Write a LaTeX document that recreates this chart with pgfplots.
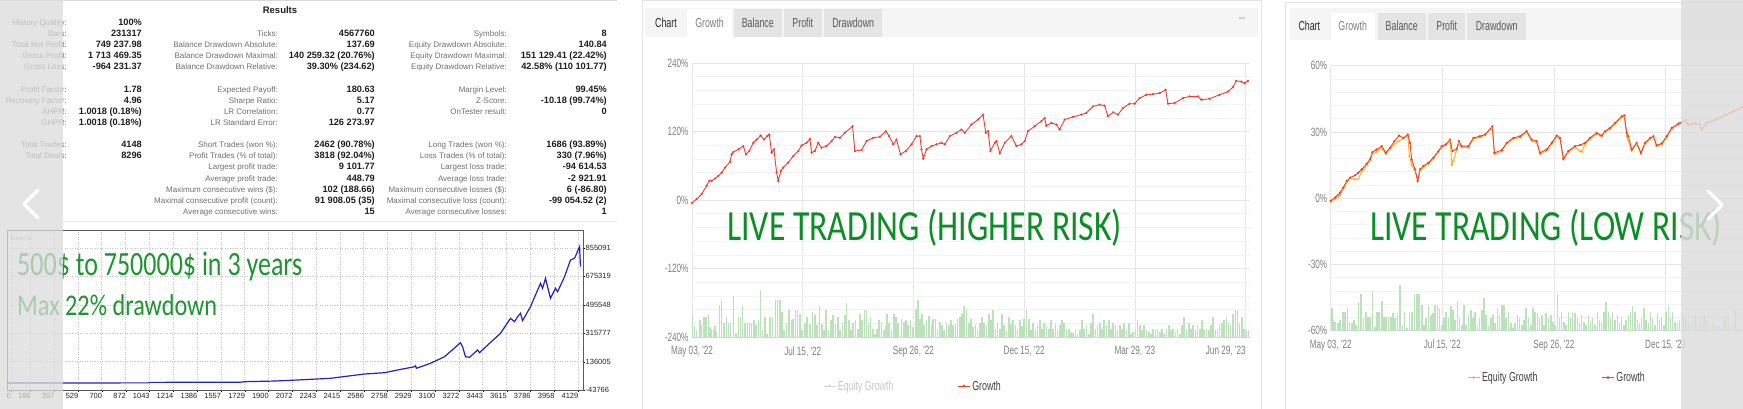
\documentclass[border=0pt]{standalone}
\usepackage{graphicx}
\usepackage{pgfplots}
\pgfplotsset{compat=1.18}
\usepackage{fontspec}
\setmainfont{Liberation Sans}
\newfontfamily\cond[FakeStretch=0.68]{Liberation Sans}
\newfontfamily\calfont{Carlito}
\definecolor{lbl}{HTML}{707070}
\definecolor{val}{HTML}{1E1E1E}
\definecolor{gtxt}{RGB}{12,142,38}
\definecolor{gtxtL}{RGB}{30,150,48}
\definecolor{gridA}{HTML}{E6E6E6}
\definecolor{gridB}{HTML}{F3F3F3}
\definecolor{xline}{HTML}{CCD6EB}
\definecolor{redl}{RGB}{240,62,50}
\definecolor{orl}{RGB}{250,178,30}
\definecolor{barg}{RGB}{188,226,188}
\definecolor{ticklbl}{HTML}{808080}
\definecolor{balblue}{RGB}{35,35,190}
\definecolor{tabbg}{HTML}{F5F5F5}
\definecolor{tabdk}{HTML}{E4E4E4}
\newcommand\fs[1]{\fontsize{#1}{#1}\selectfont}
\newcommand\rl[3]{\node[anchor=base east,inner sep=0,text=lbl,font=\fs{8}] at (#1,#2) {#3};}
\newcommand\rv[3]{\node[anchor=base east,inner sep=0,text=val,font=\bfseries\fs{9.2}] at (#1,#2) {#3};}
\pgfplotsset{
  hcstyle/.style={
    scale only axis,
    axis line style={draw=none},
    major tick length=0pt, minor tick length=0pt,
    grid=both,
    major grid style={gridA, line width=0.6pt},
    minor grid style={gridB, line width=0.5pt},
    minor y tick num=4,
    tick label style={font=\cond\fs{12}, text=ticklbl},
    xticklabel style={yshift=-6pt},
    legend style={draw=none, fill=none, font=\cond\fs{13}, legend columns=2,
      /tikz/every even column/.append style={column sep=62pt}, inner sep=0pt},
    legend image code/.code={\draw[mark repeat=2,mark phase=2,#1] plot coordinates {(0pt,0pt) (6pt,0pt) (12pt,0pt)};},
  }
}
\begin{document}
\begin{tikzpicture}[x=1pt,y=-1pt]
\useasboundingbox (0,0) rectangle (1743,409);
\clip (0,0) rectangle (1743,409);
\fill[white] (0,0) rectangle (1743,409);

% ================= LEFT PANEL =================
\draw[gray!30, line width=1pt] (0,0.5) -- (617,0.5);
\node[font=\bfseries\fs{9.5}, text=val] at (280,10) {Results};
\rl{67}{25.6}{History Quality:} \rv{142}{25.6}{100\%}
\rl{67}{36.6}{Bars:} \rv{142}{36.6}{231317}
\rl{278}{36.6}{Ticks:} \rv{375}{36.6}{4567760}
\rl{507}{36.6}{Symbols:} \rv{607}{36.6}{8}
\rl{67}{47.6}{Total Net Profit:} \rv{142}{47.6}{749 237.98}
\rl{278}{47.6}{Balance Drawdown Absolute:} \rv{375}{47.6}{137.69}
\rl{507}{47.6}{Equity Drawdown Absolute:} \rv{607}{47.6}{140.84}
\rl{67}{59}{Gross Profit:} \rv{142}{59}{1 713 469.35}
\rl{278}{59}{Balance Drawdown Maximal:} \rv{375}{59}{140 259.32 (20.76\%)}
\rl{507}{59}{Equity Drawdown Maximal:} \rv{607}{59}{151 129.41 (22.42\%)}
\rl{67}{70}{Gross Loss:} \rv{142}{70}{-964 231.37}
\rl{278}{70}{Balance Drawdown Relative:} \rv{375}{70}{39.30\% (234.62)}
\rl{507}{70}{Equity Drawdown Relative:} \rv{607}{70}{42.58\% (110 101.77)}
\rl{67}{92.3}{Profit Factor:} \rv{142}{92.3}{1.78}
\rl{278}{92.3}{Expected Payoff:} \rv{375}{92.3}{180.63}
\rl{507}{92.3}{Margin Level:} \rv{607}{92.3}{99.45\%}
\rl{67}{103.3}{Recovery Factor:} \rv{142}{103.3}{4.96}
\rl{278}{103.3}{Sharpe Ratio:} \rv{375}{103.3}{5.17}
\rl{507}{103.3}{Z-Score:} \rv{607}{103.3}{-10.18 (99.74\%)}
\rl{67}{114.3}{AHPR:} \rv{142}{114.3}{1.0018 (0.18\%)}
\rl{278}{114.3}{LR Correlation:} \rv{375}{114.3}{0.77}
\rl{507}{114.3}{OnTester result:} \rv{607}{114.3}{0}
\rl{67}{125.6}{GHPR:} \rv{142}{125.6}{1.0018 (0.18\%)}
\rl{278}{125.6}{LR Standard Error:} \rv{375}{125.6}{126 273.97}
\rl{67}{147.6}{Total Trades:} \rv{142}{147.6}{4148}
\rl{278}{147.6}{Short Trades (won \%):} \rv{375}{147.6}{2462 (90.78\%)}
\rl{507}{147.6}{Long Trades (won \%):} \rv{607}{147.6}{1686 (93.89\%)}
\rl{67}{159}{Total Deals:} \rv{142}{159}{8296}
\rl{278}{159}{Profit Trades (\% of total):} \rv{375}{159}{3818 (92.04\%)}
\rl{507}{159}{Loss Trades (\% of total):} \rv{607}{159}{330 (7.96\%)}
\rl{278}{170}{Largest profit trade:} \rv{375}{170}{9 101.77}
\rl{507}{170}{Largest loss trade:} \rv{607}{170}{-94 614.53}
\rl{278}{181}{Average profit trade:} \rv{375}{181}{448.79}
\rl{507}{181}{Average loss trade:} \rv{607}{181}{-2 921.91}
\rl{278}{192.3}{Maximum consecutive wins (\$):} \rv{375}{192.3}{102 (188.66)}
\rl{507}{192.3}{Maximum consecutive losses (\$):} \rv{607}{192.3}{6 (-86.80)}
\rl{278}{203.3}{Maximal consecutive profit (count):} \rv{375}{203.3}{91 908.05 (35)}
\rl{507}{203.3}{Maximal consecutive loss (count):} \rv{607}{203.3}{-99 054.52 (2)}
\rl{278}{214.3}{Average consecutive wins:} \rv{375}{214.3}{15}
\rl{507}{214.3}{Average consecutive losses:} \rv{607}{214.3}{1}
\draw[gray!15, line width=1pt] (63,221.7) -- (617,221.7);

\begin{axis}[at={(7pt,-390pt)}, anchor=south west, scale only axis,
  width=576pt, height=160pt,
  xmin=18, xmax=4165, ymin=-43766, ymax=969031,
  xtick={45,186,357,529,700,872,1043,1214,1386,1557,1729,1900,2072,2243,2415,2586,2758,2929,3100,3272,3443,3615,3786,3958,4129},
  xticklabels={0,186,357,529,700,872,1043,1214,1386,1557,1729,1900,2072,2243,2415,2586,2758,2929,3100,3272,3443,3615,3786,3958,4129},
  ytick={-43766,136005,315777,495548,675319,855091},
  yticklabels={-43766,136005,315777,495548,675319,855091},
  yticklabel pos=right,
  scaled ticks=false,
  grid=major, major grid style={gray!45, dash pattern=on 1pt off 1.5pt, line width=0.5pt},
  axis line style={gray!70!black, line width=0.7pt},
  tick align=outside, major tick length=2pt, tick style={black},
  xtick pos=bottom, ytick pos=right,
  tick label style={font=\fs{7.5}, text=black!85},
  xticklabel style={anchor=north east, inner sep=0.5pt, yshift=-1pt, xshift=1pt},
  yticklabel style={anchor=west, inner sep=0.5pt, xshift=0pt},
  clip=true]
\addplot[balblue, line width=1.2pt] coordinates {(18,500)(500,700)(1040,1500)(1050,4500)(1700,5500)(1730,8800)(1944,13000)(2110,19500)(2347,30300)(2592,57500)(2736,65700)(2830,82800)(2952,103700)(2959,110000)(2966,93600)(3067,125200)(3168,167000)(3283,255600)(3298,230300)(3319,167000)(3348,163200)(3406,209400)(3420,192300)(3492,251800)(3571,315100)(3643,410100)(3672,388600)(3694,420200)(3715,441700)(3730,394900)(3787,483500)(3859,631600)(3874,600000)(3895,663300)(3931,536700)(3967,600000)(3982,578500)(4032,673400)(4075,779100)(4104,789900)(4140,863300)(4147,736700)};
\end{axis}
\node[anchor=west, inner sep=0, font=\fs{6}, text=gray!55] at (10,238) {Balance};
\node[anchor=base west, inner sep=0, text=gtxtL] at (17,275) {\resizebox{285pt}{\height}{\calfont\fs{34}500\$ to 750000\$ in 3 years}};
\node[anchor=base west, inner sep=0, text=gtxtL] at (17,315) {\resizebox{200pt}{\height}{\calfont\fs{30}Max 22\% drawdown}};

% ================= MIDDLE PANEL =================
\draw[gray!22, fill=white, line width=1pt] (642,1) rectangle (1261,415);
\fill[tabbg] (645,8) rectangle (1258,37);
\fill[white] (687,9) rectangle (732,37);
\fill[tabdk] (734,9) rectangle (782,37);
\fill[tabdk] (784,9) rectangle (822,37);
\fill[tabdk] (824,9) rectangle (882,37);
\node[anchor=base, inner sep=0, font=\cond\fs{13}, text=black!85] at (666,27.3) {Chart};
\node[anchor=base, inner sep=0, font=\cond\fs{13}, text=black!50] at (709.5,27.3) {Growth};
\node[anchor=base, inner sep=0, font=\cond\fs{13}, text=black!65] at (757.8,27.3) {Balance};
\node[anchor=base, inner sep=0, font=\cond\fs{13}, text=black!65] at (802.8,27.3) {Profit};
\node[anchor=base, inner sep=0, font=\cond\fs{13}, text=black!65] at (853.2,27.3) {Drawdown};
\node[inner sep=0, font=\fs{6}, text=gray!70] at (1242,19) {•••};

\begin{axis}[hcstyle, at={(692pt,-337pt)}, anchor=south west,
  width=558pt, height=274pt,
  xmin=0, xmax=5.04, ymin=-240, ymax=240,
  xtick={0,1,2,3,4,5},
  xticklabels={{May 03, '22},{Jul 15, '22},{Sep 26, '22},{Dec 15, '22},{Mar 29, '23},{\llap{Jun 29, '23}}},
  ytick={-240,-120,0,120,240},
  yticklabels={-240\%,-120\%,0\%,120\%,240\%},
  extra y ticks={-240}, extra y tick labels={},
  extra y tick style={grid=major, major grid style={xline, line width=0.9pt}},
  legend style={at={(0.396,-0.179)}, anchor=center}]
\addplot[redl, line width=0.9pt, mark=*, mark size=0.6pt, forget plot] coordinates {(0,-5.2)(0.042,1.7)(0.087,10.4)(0.132,25)(0.156,33.6)(0.178,33.6)(0.208,37.7)(0.238,42.3)(0.268,48)(0.298,56.8)(0.343,66.7)(0.358,80)(0.373,84)(0.418,88.7)(0.463,94.5)(0.487,80)(0.517,85.8)(0.554,100.3)(0.584,106)(0.620,113)(0.650,106)(0.680,111.9)(0.698,114.8)(0.719,82.9)(0.740,88.7)(0.764,48)(0.779,33.6)(0.803,51)(0.824,56.8)(0.869,65.5)(0.915,77)(0.960,85.8)(0.990,95.6)(1.035,100.3)(1.065,107)(1.080,82.9)(1.110,85.8)(1.140,100.3)(1.170,91.6)(1.215,94.5)(1.261,103.2)(1.291,110.7)(1.336,109)(1.381,117.7)(1.450,129.3)(1.471,85.8)(1.531,87.5)(1.576,103.2)(1.637,109)(1.697,110.7)(1.751,120.6)(1.781,111.9)(1.817,97.4)(1.847,106)(1.883,80)(1.931,85.8)(1.983,97.4)(2.028,112)(2.058,111.9)(2.073,88.7)(2.088,72.5)(2.118,88.7)(2.163,94.5)(2.208,97.4)(2.253,100.3)(2.283,97.4)(2.329,111.9)(2.389,117.7)(2.434,123.5)(2.464,117.7)(2.524,132.2)(2.584,141)(2.629,149.6)(2.653,117.7)(2.674,120.6)(2.695,85.8)(2.735,100.3)(2.750,103.2)(2.780,81.7)(2.825,100.3)(2.885,111.9)(2.930,94.5)(2.975,97.4)(3.005,103.2)(3.035,120.6)(3.095,129.3)(3.155,138)(3.185,143.8)(3.200,130.4)(3.246,135)(3.291,132.2)(3.321,123.5)(3.366,140.9)(3.441,145.5)(3.517,149.6)(3.562,152.5)(3.622,164)(3.682,167)(3.727,165.2)(3.757,146.7)(3.803,153.6)(3.848,149.6)(3.893,161.2)(3.953,168.7)(3.998,168.7)(4.043,178.5)(4.103,184.3)(4.164,185.5)(4.224,187.2)(4.278,193)(4.299,168.7)(4.359,169.9)(4.435,178.5)(4.495,181.4)(4.570,181.4)(4.600,175.6)(4.675,177.4)(4.765,184.3)(4.841,190)(4.886,197.7)(4.916,208.7)(4.961,207.5)(4.991,204.6)(5.021,208.7)};
\addlegendimage{gray!35, line width=0.8pt, mark=*, mark size=0.9pt}
\addlegendentry{\textcolor{gray!45}{Equity Growth}}
\addlegendimage{redl, line width=0.8pt, mark=*, mark size=0.9pt}
\addlegendentry{\textcolor{black!75}{Growth}}
\end{axis}
\begin{axis}[at={(692pt,-337pt)}, anchor=south west, scale only axis,
  width=558pt, height=274pt, xmin=186, xmax=1861, ymin=0, ymax=822, hide axis]
\addplot[ycomb, barg, line width=1.6pt] coordinates {(188,70)(193,32)(200,20)(210,50)(215,35)(222,60)(228,60)(235,70)(240,30)(245,25)(250,20)(255,32)(260,15)(268,95)(275,112)(282,42)(290,60)(295,42)(302,42)(310,122)(318,12)(325,60)(332,60)(338,92)(345,42)(352,42)(358,42)(365,42)(372,50)(378,35)(385,50)(392,142)(398,20)(405,60)(412,10)(420,60)(428,60)(437,112)(443,112)(450,112)(457,75)(463,20)(470,42)(478,80)(485,50)(490,55)(497,80)(503,80)(510,70)(517,20)(525,42)(532,60)(540,40)(548,75)(555,65)(562,35)(569,92)(576,40)(582,22)(589,80)(596,20)(603,50)(610,65)(617,40)(624,60)(631,20)(638,42)(645,65)(650,102)(657,50)(664,20)(670,42)(677,50)(684,25)(690,70)(697,50)(704,80)(710,80)(716,42)(722,60)(729,25)(735,10)(742,25)(748,50)(755,42)(762,20)(768,32)(772,70)(778,42)(785,20)(792,70)(798,60)(805,42)
(815,55)(822,45)(828,52)(835,35)(842,50)(850,30)(858,85)(865,112)(870,55)(877,70)(883,35)(890,50)(898,62)(905,35)(910,55)(917,55)(923,25)(930,45)(937,35)(943,20)(950,42)(957,35)(963,50)(970,35)(977,40)(983,55)(990,60)(997,70)(1003,92)(1010,85)(1017,42)(1023,55)(1030,30)(1037,35)(1043,20)(1050,42)(1057,60)(1063,42)(1070,35)(1077,68)(1083,50)(1090,80)(1097,25)(1103,45)(1110,25)(1117,68)(1123,35)(1130,20)(1137,60)(1143,40)(1150,52)(1157,35)(1163,25)(1170,50)(1177,32)(1183,55)(1190,80)(1197,55)(1203,20)(1210,42)(1217,20)(1223,35)(1230,50)(1237,25)(1243,42)(1250,35)(1257,25)(1263,50)(1270,25)(1277,42)(1283,20)(1290,35)(1297,50)(1303,42)(1310,20)(1317,25)(1323,15)(1330,12)(1337,20)(1343,10)(1350,20)(1357,50)(1363,25)(1370,35)(1377,10)(1383,42)(1390,70)(1397,25)(1403,35)(1410,42)(1417,25)(1423,50)(1430,35)(1437,50)(1443,25)(1450,42)(1457,35)(1463,20)(1470,35)(1477,25)(1483,42)(1490,20)(1497,42)(1503,10)(1510,15)(1517,25)(1523,50)(1530,35)(1537,20)(1543,35)(1550,20)(1557,15)(1563,10)(1570,25)(1577,20)(1583,25)(1590,15)(1597,25)(1603,10)(1610,25)(1617,35)(1623,20)(1630,25)(1637,15)(1643,25)(1650,10)(1657,35)(1663,60)(1670,20)(1677,42)(1683,25)(1690,35)(1697,20)(1703,35)(1710,25)(1717,50)(1723,20)(1730,25)(1737,20)(1743,35)(1750,60)(1757,20)(1763,25)(1770,35)(1777,42)(1783,50)(1790,60)(1797,42)(1803,35)(1810,70)(1817,80)(1823,80)(1830,42)(1837,60)(1843,25)(1850,20)(1857,20)};
\end{axis}
\node[anchor=base west, inner sep=0, text=gtxt] at (727,240) {\resizebox{395pt}{\height}{\calfont\fs{43}LIVE TRADING (HIGHER RISK)}};

% ================= RIGHT PANEL =================
\draw[gray!22, fill=white, line width=1pt] (1285,3) rectangle (1770,415);
\fill[tabbg] (1290,8) rectangle (1743,40);
\fill[white] (1331,13) rectangle (1375,40);
\fill[tabdk] (1378,13) rectangle (1426,40);
\fill[tabdk] (1428,13) rectangle (1465,40);
\fill[tabdk] (1467,13) rectangle (1526,40);
\node[anchor=base, inner sep=0, font=\cond\fs{13}, text=black!85] at (1309.3,30.3) {Chart};
\node[anchor=base, inner sep=0, font=\cond\fs{13}, text=black!50] at (1352.7,30.3) {Growth};
\node[anchor=base, inner sep=0, font=\cond\fs{13}, text=black!65] at (1401.7,30.3) {Balance};
\node[anchor=base, inner sep=0, font=\cond\fs{13}, text=black!65] at (1446.7,30.3) {Profit};
\node[anchor=base, inner sep=0, font=\cond\fs{13}, text=black!65] at (1496.7,30.3) {Drawdown};

\begin{axis}[hcstyle, at={(1330.7pt,-330.7pt)}, anchor=south west,
  width=412.3pt, height=265pt,
  xmin=0, xmax=3.693, ymin=-60, ymax=60,
  xtick={0,1,2,3},
  xticklabels={{May 03, '22},{Jul 15, '22},{Sep 26, '22},{Dec 15, '22}},
  ytick={-60,-30,0,30,60},
  yticklabels={-60\%,-30\%,0\%,30\%,60\%},
  extra y ticks={-60}, extra y tick labels={},
  extra y tick style={grid=major, major grid style={xline, line width=0.9pt}},
  legend style={at={(0.549,-0.177)}, anchor=center}]
\addplot[orl, line width=0.9pt, mark=*, mark size=0.6pt, forget plot] coordinates {(0,-1.5)(0.039,-0.5)(0.084,1.5)(0.113,4)(0.143,7)(0.173,9)(0.218,8.5)(0.248,8.8)(0.278,12)(0.322,15)(0.352,17)(0.373,20)(0.412,21)(0.457,23)(0.493,20)(0.531,22.3)(0.570,24.5)(0.612,26)(0.651,27)(0.690,28.5)(0.705,19)(0.725,15)(0.755,12.5)(0.779,8)(0.800,12.5)(0.830,14)(0.875,15.5)(0.919,17.8)(0.964,21)(0.994,23)(1.030,24)(1.069,26)(1.085,15)(1.100,17)(1.128,22)(1.149,25)(1.173,23)(1.233,23)(1.278,26.8)(1.337,27.5)(1.382,28.5)(1.448,32)(1.466,20)(1.531,21.2)(1.576,24.5)(1.636,26.8)(1.696,27.5)(1.755,30)(1.800,26)(1.845,25)(1.875,20)(1.934,21.5)(1.979,24.5)(2.024,27.8)(2.054,26.8)(2.084,17.5)(2.128,20.8)(2.188,23)(2.233,21.3)(2.250,21)(2.278,24.5)(2.322,26.8)(2.382,29)(2.427,28)(2.457,30)(2.501,31.3)(2.546,33.5)(2.606,36.5)(2.630,37)(2.651,28)(2.666,26)(2.696,21.5)(2.740,24.5)(2.779,20)(2.815,24.5)(2.860,26.8)(2.890,27.5)(2.919,23.5)(2.964,24.3)(3.009,27.5)(3.054,31.3)(3.113,33.3)(3.179,35)(3.203,33)(3.263,33.8)(3.307,33)(3.322,30.8)(3.367,33.8)(3.442,35.3)(3.531,37.5)(3.606,39)(3.693,41.3)};
\addplot[redl, line width=0.9pt, mark=*, mark size=0.6pt, forget plot] coordinates {(0,-1.2)(0.039,0.3)(0.084,2.55)(0.113,4.8)(0.143,7.8)(0.173,9.3)(0.218,10.35)(0.248,11.55)(0.278,13.05)(0.322,15.6)(0.352,17.55)(0.373,20.85)(0.412,22.05)(0.457,23.55)(0.493,20.55)(0.531,22.8)(0.570,25.8)(0.612,28.35)(0.651,27.3)(0.690,28.8)(0.710,25.05)(0.725,17.55)(0.755,13.05)(0.779,7.8)(0.800,13.05)(0.830,14.55)(0.875,16.05)(0.919,18.3)(0.964,21.3)(0.994,23.55)(1.030,24.3)(1.069,26.55)(1.090,21.3)(1.128,22.35)(1.149,25.8)(1.173,23.55)(1.233,23.55)(1.278,27.3)(1.337,28.05)(1.382,28.8)(1.448,32.55)(1.466,20.55)(1.531,21.75)(1.576,25.05)(1.636,27.3)(1.696,28.05)(1.755,30.3)(1.800,26.55)(1.845,25.8)(1.875,20.55)(1.934,22.05)(1.979,25.05)(2.024,28.35)(2.054,27.3)(2.084,17.85)(2.128,21.3)(2.188,23.55)(2.233,24)(2.278,25.05)(2.322,27.3)(2.382,29.55)(2.427,28.35)(2.457,30.3)(2.501,31.8)(2.546,34.05)(2.606,37.05)(2.630,37.5)(2.651,29.55)(2.666,28.05)(2.696,22.05)(2.740,25.05)(2.779,20.55)(2.815,25.05)(2.860,27.3)(2.890,28.05)(2.919,24)(2.964,24.75)(3.009,28.05)(3.054,31.8)(3.113,33.75)(3.179,35.55)(3.203,33.3)(3.263,34.05)(3.307,33.3)(3.322,31.05)(3.367,34.05)(3.442,35.55)(3.531,37.8)(3.606,39.3)(3.693,41.55)};
\addlegendimage{orl, line width=0.8pt, mark=*, mark size=0.9pt}
\addlegendentry{\textcolor{black!75}{Equity Growth}}
\addlegendimage{redl, line width=0.8pt, mark=*, mark size=0.9pt}
\addlegendentry{\textcolor{black!75}{Growth}}
\end{axis}
\begin{axis}[at={(1330.7pt,-330.7pt)}, anchor=south west, scale only axis,
  width=412.3pt, height=265pt, xmin=167, xmax=1404, ymin=0, ymax=795, hide axis]
\addplot[ycomb, barg, line width=1.6pt] coordinates {(170,67)(175,32)(180,27)(188,24)(195,32)(203,57)(210,57)(217,67)(223,27)(230,22)(237,32)(243,17)(250,87)(258,109)(265,37)(272,57)(278,42)(285,42)(292,119)(300,12)(305,57)(312,57)(320,90)(327,42)(333,42)(340,42)(347,42)(353,52)(360,37)(367,52)(375,137)(382,17)(388,57)(395,7)(403,57)(410,57)(418,109)(425,109)(432,109)(440,77)(447,17)(453,37)(460,77)(467,47)(473,52)(480,77)(487,77)(493,67)(500,17)(507,37)(513,57)(520,37)(527,74)(533,62)(540,32)(547,89)(553,37)(560,17)(567,77)(573,17)(580,47)(587,62)(593,37)(600,57)(607,17)(613,37)(620,62)(627,99)(633,47)(640,17)(647,37)(653,47)(660,22)(667,67)(673,47)(680,77)(687,77)(693,37)(700,57)(707,22)(713,7)(720,22)(727,47)(733,37)(740,17)(747,32)(753,67)(760,37)(767,17)(773,67)(780,57)(787,52)(793,37)(800,47)(807,17)(813,52)(820,37)(827,47)(833,27)(840,17)(847,109)(853,37)(860,57)(867,27)(873,17)(880,57)(887,37)(893,57)(900,52)(907,37)(913,22)(920,47)(927,27)(933,17)(940,47)(947,27)(953,37)(960,17)(967,57)(973,32)(980,27)(987,57)(993,87)(1000,57)(1007,37)(1013,57)(1020,32)(1027,47)(1033,22)(1040,42)(1047,17)(1053,32)(1060,47)(1067,57)(1073,74)(1080,57)(1087,32)(1093,22)(1100,37)(1107,67)(1113,32)(1120,22)(1127,57)(1133,37)(1140,17)(1147,52)(1153,32)(1160,42)(1167,17)(1173,57)(1180,77)(1187,37)(1193,57)(1200,27)(1207,22)(1213,32)(1220,47)(1227,37)(1233,32)(1240,47)(1247,24)(1253,32)(1260,47)(1267,27)(1273,37)(1280,17)(1287,47)(1293,32)(1300,27)(1307,17)(1313,22)(1320,12)(1327,7)(1333,17)(1340,7)(1347,32)(1353,42)(1360,47)(1367,17)(1373,7)(1380,62)(1387,7)};
\end{axis}
\node[anchor=base west, inner sep=0, text=gtxt] at (1370,240) {\resizebox{352pt}{\height}{\calfont\fs{43}LIVE TRADING (LOW RISK)}};

% ================= OVERLAYS =================
\fill[gray!28, opacity=0.75] (0,0) rectangle (63,409);
\fill[gray!27, opacity=0.85] (1681,0) rectangle (1743,409);
\draw[white, line width=3.2pt, line cap=round, line join=round] (38,190) -- (24,204) -- (38,218);
\draw[white, line width=3.2pt, line cap=round, line join=round] (1708,191) -- (1722,205) -- (1708,219);
\end{tikzpicture}
\end{document}
